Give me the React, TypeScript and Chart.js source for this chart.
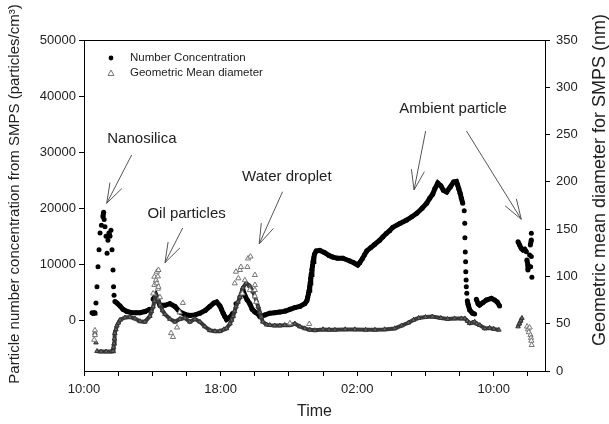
import React, { useEffect, useRef } from "react";
import { Chart, registerables } from "chart.js";

Chart.register(...registerables);

const FONT = '"Liberation Sans", Arial, sans-serif';

// ---- axis ticks ----
const xTickHours = [0, 2, 4, 6, 8, 10, 12, 14, 16, 18, 20, 22, 24, 26];
const xTickLabels: Record<number, string> = { 0: "10:00", 8: "18:00", 16: "02:00", 24: "10:00" };
const leftTicks = [0, 10000, 20000, 30000, 40000, 50000];
const rightTicks = [0, 50, 100, 150, 200, 250, 300, 350];

// ---- Number Concentration (hours after 10:00, particles/cm3) ----
const ncHours = [
  0.47, 0.53, 0.59, 0.64, 0.70, 0.76, 0.82, 0.88, 0.94, 1.02, 1.11, 1.15, 1.18, 1.23, 1.29, 1.35, 1.40, 1.46, 1.52, 1.58,
  1.64, 1.70, 1.73, 1.76, 1.81, 1.93, 2.11, 2.28, 2.52, 2.81, 3.05, 3.28, 3.57, 3.86, 4.05, 4.21, 4.33, 4.45, 4.74, 5.03,
  5.33, 5.62, 5.91, 6.20, 6.50, 6.79, 7.10, 7.37, 7.60, 7.77, 7.96, 8.05, 8.15, 8.25, 8.35, 8.55, 8.72, 8.90, 9.13, 9.30,
  9.42, 9.55, 9.71, 9.85, 10.01, 10.18, 10.30, 10.60, 10.88, 11.17, 11.47, 11.80, 12.06, 12.35, 12.64, 12.93, 13.05, 13.10, 13.15, 13.19,
  13.22, 13.25, 13.28, 13.31, 13.35, 13.38, 13.42, 13.46, 13.50, 13.60, 13.81, 14.10, 14.35, 14.57, 14.85, 15.16, 15.57, 15.80, 16.03, 16.15,
  16.30, 16.43, 16.56, 16.80, 17.00, 17.32, 17.50, 17.70, 17.90, 18.08, 18.50, 18.90, 19.20, 19.49, 19.80, 20.07, 20.25, 20.42, 20.55, 20.72,
  20.90, 21.05, 21.24, 21.45, 21.65, 21.81, 21.88, 21.95, 22.03, 22.10, 22.18, 22.27, 22.30, 22.31, 22.33, 22.35, 22.36, 22.38, 22.39, 22.42,
  22.45, 22.50, 22.59, 22.75, 22.88, 22.98, 23.08, 23.17, 23.37, 23.57, 23.86, 24.05, 24.20, 24.34,
  25.42, 25.51, 25.61, 25.71, 25.81, 25.91, 25.94, 26.00, 26.00, 26.10, 26.14, 26.20, 26.20, 26.20, 26.16, 26.23,
];
const ncValues = [
  1400, 1300, 1350, 1400, 3100, 6000, 9600, 12600, 15600, 17000, 18500, 19300, 18000, 16700, 15000, 12000, 14300, 15600, 15000, 16100,
  12600, 9000, 6000, 4500, 3400, 3100, 2600, 2000, 1600, 1400, 1400, 1400, 1600, 2000, 3800, 4500, 3500, 2700, 2700, 3000,
  2500, 1500, 1100, 900, 1000, 1300, 1800, 2500, 3100, 3300, 2600, 2000, 1300, 700, 200, 600, 1300, 3000, 4200, 5500,
  4500, 3700, 3000, 2000, 1500, 1200, 700, 1000, 1300, 1400, 1500, 1700, 2000, 2300, 2500, 3000, 3500, 4100, 4800, 5400,
  6000, 6700, 7500, 8200, 9000, 9700, 10500, 11200, 11800, 12400, 12500, 12100, 11600, 11300, 11100, 11100, 10600, 10300, 9900, 10300,
  11000, 11700, 12400, 13000, 13500, 14300, 14900, 15500, 16000, 16600, 17300, 17900, 18500, 19100, 20000, 20900, 21800, 22500, 23500, 24500,
  24000, 23200, 22900, 23800, 24700, 24800, 24200, 23500, 22700, 21800, 20900, 19570, 17320, 14760, 12210, 10480, 8700, 7220, 6030, 4850,
  3500, 2800, 1880, 1300, 1160, 3770, 3000, 2760, 3200, 3650, 3950, 3650, 3300, 2580,
  14050, 13460, 12880, 12570, 12700, 12270, 10790, 9890, 9000, 11680, 13460, 14350, 15550, 11400, 9600, 7700,
];

// ---- Geometric Mean diameter, main trace (hours, nm) ----
const gmdHours = [
  0.64, 0.70, 0.76, 1.00, 1.30, 1.60, 1.70, 1.73, 1.76, 1.78, 1.81, 1.87, 1.93, 2.02, 2.11, 2.40, 2.69, 2.98, 3.28, 3.57,
  3.86, 3.95, 4.05, 4.13, 4.21, 4.33, 4.45, 4.60, 4.74, 5.03, 5.33, 5.62, 5.91, 6.20, 6.50, 6.79, 7.08, 7.37, 7.67, 7.96,
  8.20, 8.35, 8.55, 8.65, 8.74, 8.82, 8.90, 9.02, 9.13, 9.22, 9.30, 9.50, 9.70, 9.90, 10.00, 10.10, 10.20, 10.30, 10.38, 10.47,
  10.70, 10.88, 11.17, 11.47, 11.76, 12.06, 12.35, 12.64, 12.93, 13.23, 13.52, 14.00, 14.35, 14.69, 15.30, 15.86, 16.50, 17.04, 17.60, 18.20,
  18.60, 19.00, 19.30, 19.60, 20.00, 20.40, 20.90, 21.30, 21.70, 22.10, 22.30, 22.45, 22.59, 22.75, 22.88, 23.00, 23.18, 23.47, 23.76, 24.00,
  24.30, 25.42, 25.50, 25.58, 25.65,
];
const gmdValues = [
  40, 30, 21, 20.5, 20.5, 20.5, 21, 25, 29, 34, 40, 44, 48, 51, 54, 56.5, 57, 55.5, 52.5, 52,
  58, 63, 68, 74, 80, 76, 70, 64, 60, 55, 52, 55, 56, 52, 55, 52, 47, 43, 42, 42,
  44, 45, 50, 54, 58, 63, 68, 73, 78, 83, 88, 93, 90, 84, 79, 74, 68, 62, 57, 52,
  49, 48.5, 48, 48, 48.5, 48.5, 50, 47, 45, 43.5, 43, 44, 43.5, 43.5, 44, 44, 43.5, 43.5, 44, 45,
  48, 51, 54, 56, 57, 57.5, 56, 55, 55.5, 55.5, 55.5, 53, 50.5, 51, 52, 50, 48.5, 45, 45.5, 44.5,
  43.5, 47, 50, 53, 56,
];

// ---- Geometric Mean diameter, scattered readings (hours, nm) ----
const gmdScatterHours = [
  0.60, 0.64, 0.64, 4.05, 4.12, 4.12, 4.22, 4.27, 4.27, 4.33, 4.33, 4.36, 4.36, 4.45, 5.10, 5.21, 5.45, 5.60, 5.79,
  8.83, 8.90, 9.04, 9.13, 9.19, 9.28, 9.42, 9.57, 9.61, 9.71, 9.75, 10.01, 10.01, 10.01, 10.01, 10.09, 12.06, 13.19,
  25.95, 26.00, 26.05, 26.10, 26.15, 26.18, 26.20, 26.22,
];
const gmdScatterValues = [
  33, 38, 43, 82, 99.7, 91, 96, 105, 92.7, 100, 87, 106.8, 89, 78, 40, 36, 46, 62, 72,
  92.7, 105, 98, 106.8, 110, 82, 96, 110, 119, 85.6, 121, 101.5, 91, 85.6, 79, 73, 50.4, 49.7,
  47, 44, 41, 46, 38, 35, 32, 27.5,
];

// ---- annotations: text position and arrows (hours, particles/cm3) ----
const annotations = [
  { text: "Nanosilica", at: [3.39, 32350], arrows: [[2.79, 29500, 1.33, 20890]] },
  { text: "Oil particles", at: [6.01, 18990], arrows: [[5.78, 16490, 4.74, 10300]] },
  { text: "Water droplet", at: [11.88, 25580], arrows: [[11.63, 22960, 10.26, 13640]] },
  {
    text: "Ambient particle",
    at: [21.62, 37650],
    arrows: [
      [20.01, 33780, 19.33, 23260],
      [22.4, 33780, 25.61, 18040],
    ],
  },
];

const legendLabels = ["Number Concentration", "Geometric Mean diameter"];

function toPts(xs: number[], ys: number[]) {
  return xs.map((x, i) => ({ x, y: ys[i] }));
}

// hide connecting stroke where readings are far apart (shows as separate markers)
const gapSegment = (maxDy: number, maxDist: number) => (ctx: any) => {
  const dx = ctx.p1.x - ctx.p0.x;
  const dy = ctx.p1.y - ctx.p0.y;
  return Math.abs(dy) > maxDy || Math.hypot(dx, dy) > maxDist ? "rgba(0,0,0,0)" : undefined;
};

function drawArrow(ctx: CanvasRenderingContext2D, x0: number, y0: number, x1: number, y1: number) {
  ctx.beginPath();
  ctx.moveTo(x0, y0);
  ctx.lineTo(x1, y1);
  const ang = Math.atan2(y0 - y1, x0 - x1);
  const len = 21;
  const spread = 0.32;
  ctx.moveTo(x1 + Math.cos(ang + spread) * len, y1 + Math.sin(ang + spread) * len);
  ctx.lineTo(x1, y1);
  ctx.lineTo(x1 + Math.cos(ang - spread) * len, y1 + Math.sin(ang - spread) * len);
  ctx.stroke();
}

const decorPlugin = {
  id: "decor",
  afterDraw(chart: any) {
    const { ctx, chartArea: ca, scales } = chart;
    const xs = scales.x;
    const yl = scales.y;
    ctx.save();
    // top frame line
    ctx.strokeStyle = "#000";
    ctx.lineWidth = 1;
    ctx.beginPath();
    ctx.moveTo(ca.left, Math.round(ca.top) + 0.5);
    ctx.lineTo(ca.right, Math.round(ca.top) + 0.5);
    ctx.stroke();

    // axis titles
    ctx.fillStyle = "#222";
    ctx.textAlign = "center";
    ctx.textBaseline = "middle";
    ctx.save();
    ctx.translate(15, 194);
    ctx.rotate(-Math.PI / 2);
    ctx.font = `15px ${FONT}`;
    ctx.fillText("Particle number concentration from SMPS (particles/cm\u00B3)", 0, 0);
    ctx.restore();
    ctx.save();
    ctx.translate(600, 180);
    ctx.rotate(-Math.PI / 2);
    ctx.font = `18px ${FONT}`;
    ctx.fillText("Geometric mean diameter for SMPS (nm)", 0, 0);
    ctx.restore();
    ctx.font = `16px ${FONT}`;
    ctx.fillText("Time", (ca.left + ca.right) / 2, 412);

    // legend
    const lx = ca.left + 27;
    const ly = ca.top + 18;
    ctx.fillStyle = "#000";
    ctx.beginPath();
    ctx.arc(lx, ly, 2.4, 0, Math.PI * 2);
    ctx.fill();
    ctx.strokeStyle = "#777";
    ctx.lineWidth = 1;
    ctx.beginPath();
    ctx.moveTo(lx, ly + 15 - 3);
    ctx.lineTo(lx + 3, ly + 15 + 2.5);
    ctx.lineTo(lx - 3, ly + 15 + 2.5);
    ctx.closePath();
    ctx.stroke();
    ctx.fillStyle = "#222";
    ctx.font = `11.5px ${FONT}`;
    ctx.textAlign = "left";
    ctx.fillText(legendLabels[0], lx + 19, ly);
    ctx.fillText(legendLabels[1], lx + 19, ly + 15);

    // annotations
    ctx.textAlign = "center";
    ctx.font = `15px ${FONT}`;
    ctx.strokeStyle = "#555";
    ctx.lineWidth = 1;
    annotations.forEach((a) => {
      ctx.fillStyle = "#222";
      ctx.fillText(a.text, xs.getPixelForValue(a.at[0]), yl.getPixelForValue(a.at[1]));
      a.arrows.forEach((ar) => {
        drawArrow(
          ctx,
          xs.getPixelForValue(ar[0]),
          yl.getPixelForValue(ar[1]),
          xs.getPixelForValue(ar[2]),
          yl.getPixelForValue(ar[3])
        );
      });
    });
    ctx.restore();
  },
};

export default function App() {
  const canvasRef = useRef<HTMLCanvasElement | null>(null);

  useEffect(() => {
    if (!canvasRef.current) return;
    const tickFont = { family: FONT, size: 13 };
    const chart = new Chart(canvasRef.current, {
      type: "scatter",
      data: {
        datasets: [
          {
            label: legendLabels[1] + " scatter",
            data: toPts(gmdScatterHours, gmdScatterValues),
            yAxisID: "y2",
            showLine: false,
            pointStyle: "triangle",
            pointRadius: 3,
            pointBorderWidth: 1,
            pointBorderColor: "#777",
            pointBackgroundColor: "#fff",
            order: 1,
          },
          {
            label: legendLabels[1],
            data: toPts(gmdHours, gmdValues),
            yAxisID: "y2",
            showLine: true,
            borderColor: "#3a3a3a",
            borderWidth: 4,
            segment: { borderColor: gapSegment(7, 14) },
            pointStyle: "triangle",
            pointRadius: 2.6,
            pointBorderWidth: 1,
            pointBorderColor: "#333",
            pointBackgroundColor: "#666",
            order: 2,
          },
          {
            label: legendLabels[0],
            data: toPts(ncHours, ncValues),
            yAxisID: "y",
            showLine: true,
            borderColor: "#000",
            borderWidth: 5,
            segment: { borderColor: gapSegment(6, 12) },
            pointStyle: "circle",
            pointRadius: 2.5,
            pointBorderWidth: 0,
            pointBackgroundColor: "#000",
            order: 3,
          },
        ],
      },
      options: {
        responsive: false,
        animation: false,
        devicePixelRatio: 1,
        layout: { padding: { top: 40, left: 0, right: 0, bottom: 0 } },
        plugins: { legend: { display: false }, tooltip: { enabled: false } },
        scales: {
          x: {
            type: "linear",
            position: "bottom",
            min: 0,
            max: 27,
            afterBuildTicks: (s: any) => {
              s.ticks = xTickHours.map((v) => ({ value: v }));
            },
            afterFit: (s: any) => {
              s.height = 53;
            },
            ticks: {
              callback: (v: any) => xTickLabels[Number(v)] ?? "",
              font: tickFont,
              color: "#222",
              maxRotation: 0,
              autoSkip: false,
              padding: 6,
            },
            grid: { drawOnChartArea: false, drawTicks: true, tickLength: 5, color: "#000" },
            border: { display: true, color: "#000", width: 1 },
          },
          y: {
            type: "linear",
            position: "left",
            min: -9000,
            max: 50000,
            afterBuildTicks: (s: any) => {
              s.ticks = leftTicks.map((v) => ({ value: v }));
            },
            afterFit: (s: any) => {
              s.width = 84;
            },
            ticks: { font: tickFont, color: "#222", padding: 3, callback: (v: any) => String(v) },
            grid: { drawOnChartArea: false, drawTicks: true, tickLength: 5, color: "#000" },
            border: { display: true, color: "#000", width: 1 },
          },
          y2: {
            type: "linear",
            position: "right",
            min: 0,
            max: 350,
            afterBuildTicks: (s: any) => {
              s.ticks = rightTicks.map((v) => ({ value: v }));
            },
            afterFit: (s: any) => {
              s.width = 64;
            },
            ticks: { font: tickFont, color: "#222", padding: 6, callback: (v: any) => String(v) },
            grid: { drawOnChartArea: false, drawTicks: true, tickLength: 5, color: "#000" },
            border: { display: true, color: "#000", width: 1 },
          },
        },
      },
      plugins: [decorPlugin],
    });
    return () => chart.destroy();
  }, []);

  return (
    <div style={{ position: "absolute", left: 0, top: 0, width: 609, height: 424, background: "#fff" }}>
      <canvas ref={canvasRef} width={609} height={424} />
    </div>
  );
}
